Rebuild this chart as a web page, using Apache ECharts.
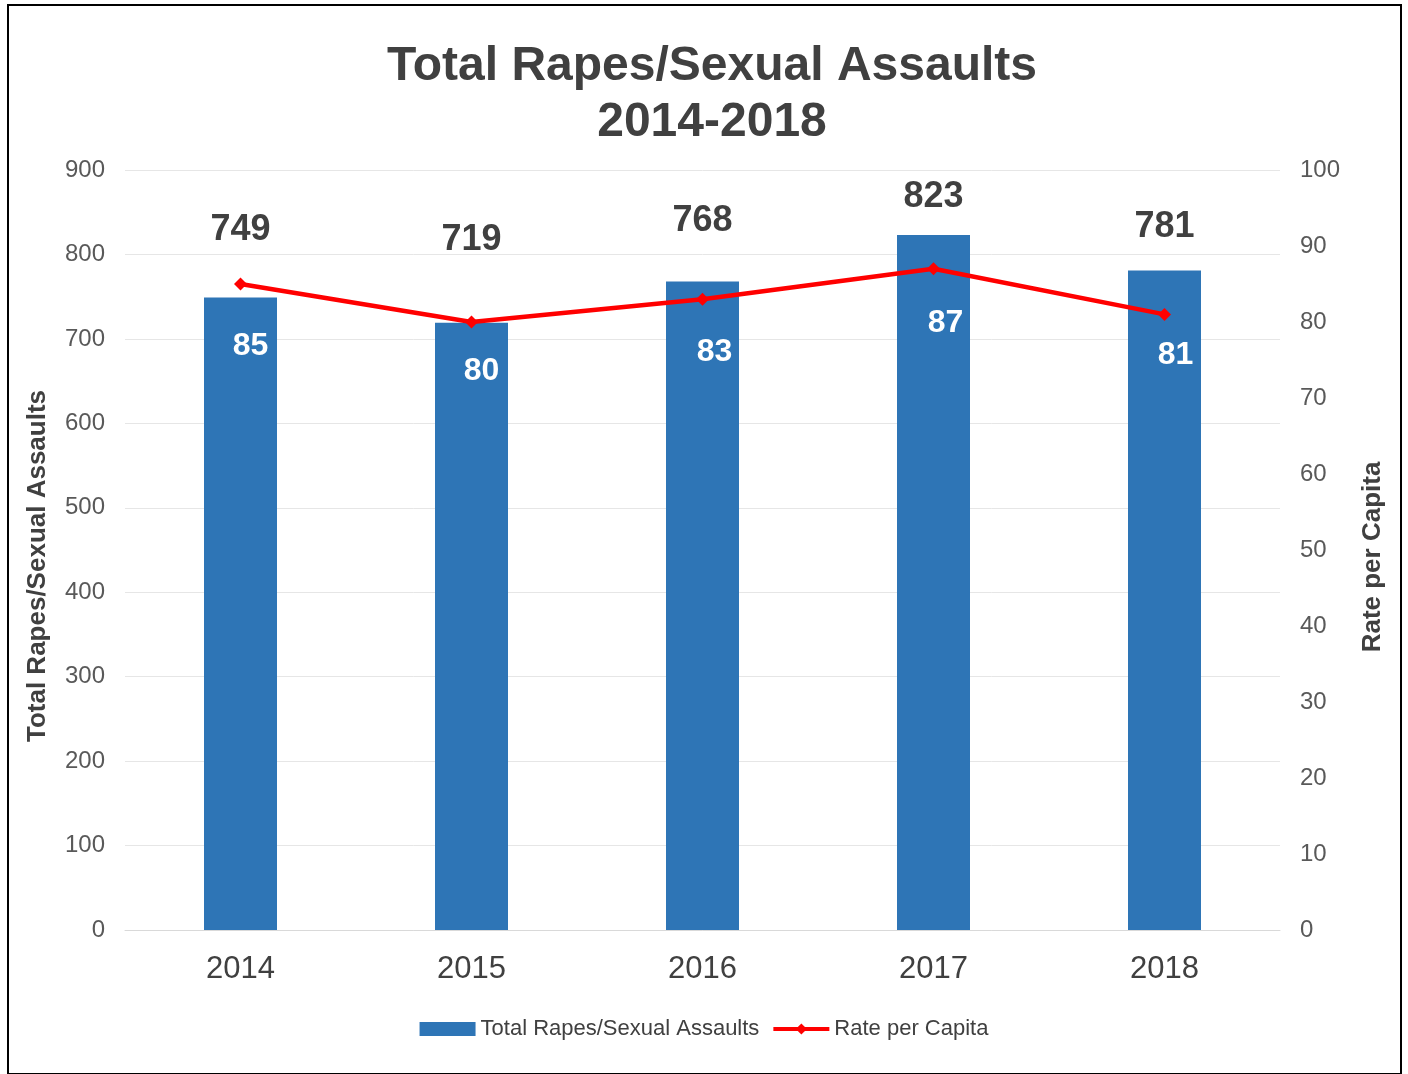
<!DOCTYPE html>
<html>
<head>
<meta charset="utf-8">
<script src="https://cdn.jsdelivr.net/npm/echarts@6/dist/echarts.min.js"></script>
<style>
html,body{margin:0;padding:0;background:#fff;}
#frame{position:absolute;left:7px;top:4px;width:1391px;height:1067px;border:2px solid #000;}
#chart{position:absolute;left:0;top:0;width:1408px;height:1074px;}
</style>
</head>
<body>
<div id="frame"></div>
<div id="chart"></div>
<script>
const years = ['2014', '2015', '2016', '2017', '2018'];
const totalAssaults = [749, 719, 768, 823, 781];
const ratePerCapita = [85, 80, 83, 87, 81];
const leftTicks = [0, 900, 100];
const rightTicks = [0, 100, 10];

const barLabelGap = [49, 65, 42, 20, 25];
const lineLabelGap = [[40, 10], [27, 10], [30, 12], [32, 12], [18, 11]];

const font = '"Liberation Sans", Arial, sans-serif';
const chart = echarts.init(document.getElementById('chart'));
chart.setOption({
  animation: false,
  title: {
    text: 'Total Rapes/Sexual Assaults\n2014-2018',
    left: 707, textAlign: 'center', top: 34,
    textStyle: { fontFamily: font, fontSize: 48, fontWeight: 'bold', color: '#404040', lineHeight: 56 }
  },
  legend: {
    bottom: 29, left: 'center', itemGap: 12,
    textStyle: { fontFamily: font, fontSize: 22, color: '#404040' },
    data: [
      { name: 'Total Rapes/Sexual Assaults', icon: 'rect', itemWidth: 52, itemHeight: 14 },
      { name: 'Rate per Capita', lineStyle: { width: 4 } }
    ],
    itemWidth: 56, itemHeight: 14
  },
  grid: { left: 125, right: 128, top: 170, bottom: 144 },
  xAxis: {
    type: 'category', data: years,
    axisLine: { show: true, lineStyle: { color: '#d9d9d9' } },
    axisTick: { show: false },
    axisLabel: { fontFamily: font, fontSize: 31, color: '#404040', margin: 24 }
  },
  yAxis: [
    {
      type: 'value', min: leftTicks[0], max: leftTicks[1], interval: leftTicks[2],
      name: 'Total Rapes/Sexual Assaults', nameLocation: 'middle', nameGap: 74,
      nameTextStyle: { fontFamily: font, fontSize: 26, fontWeight: 'bold', color: '#404040', padding: [0, 32, 0, 0] },
      axisLine: { show: false }, axisTick: { show: false },
      axisLabel: { fontFamily: font, fontSize: 24, color: '#595959', margin: 20 },
      splitLine: { lineStyle: { color: '#e6e6e6', width: 1 } }
    },
    {
      type: 'value', min: rightTicks[0], max: rightTicks[1], interval: rightTicks[2],
      name: 'Rate per Capita', nameLocation: 'middle', nameGap: 80, nameRotate: 90,
      nameTextStyle: { fontFamily: font, fontSize: 26, fontWeight: 'bold', color: '#404040', padding: [0, 14, 0, 0] },
      axisLine: { show: false }, axisTick: { show: false },
      axisLabel: { fontFamily: font, fontSize: 24, color: '#595959', margin: 20 },
      splitLine: { show: false }
    }
  ],
  series: [
    {
      name: 'Total Rapes/Sexual Assaults', type: 'bar', yAxisIndex: 0,
      barWidth: 73,
      itemStyle: { color: '#2E75B6' },
      data: totalAssaults.map((v, i) => ({
        value: v,
        label: { show: true, position: 'top', distance: barLabelGap[i],
          fontFamily: font, fontSize: 36, fontWeight: 'bold', color: '#404040' }
      }))
    },
    {
      name: 'Rate per Capita', type: 'line', yAxisIndex: 1,
      symbol: 'diamond', symbolSize: 13,
      lineStyle: { color: '#FF0000', width: 4.5 },
      itemStyle: { color: '#FF0000' },
      data: ratePerCapita.map((v, i) => ({
        value: v,
        label: { show: true, position: 'bottom', distance: lineLabelGap[i][0], offset: [lineLabelGap[i][1], 0],
          fontFamily: font, fontSize: 32, fontWeight: 'bold', color: '#ffffff' }
      })),
      z: 5
    }
  ]
});
</script>
</body>
</html>
